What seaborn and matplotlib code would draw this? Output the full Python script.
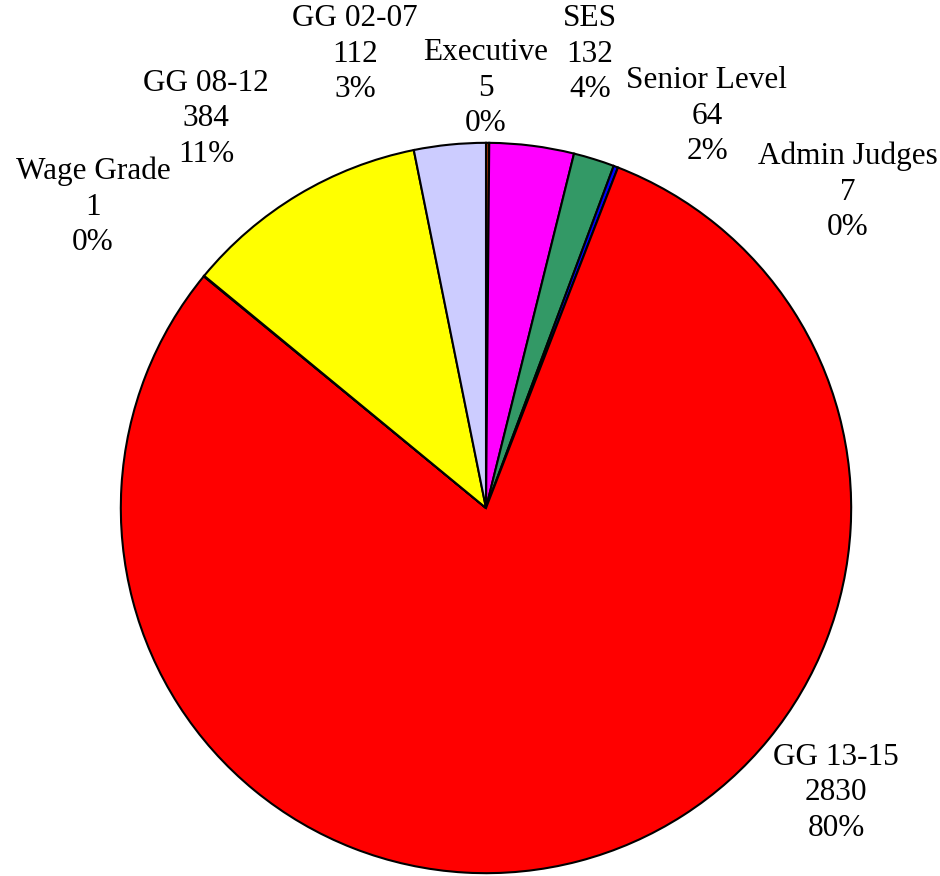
import matplotlib
matplotlib.use("Agg")
import matplotlib.pyplot as plt
import seaborn as sns

# ── Data ──────────────────────────────────────────────────────────────────────
categories = ["Executive", "SES", "Senior Level", "Admin Judges",
              "GG 13-15", "Wage Grade", "GG 08-12", "GG 02-07"]
counts = [5, 132, 64, 7, 2830, 1, 384, 112]
colors = ["#993300", "#FF00FF", "#339966", "#0000FF",
          "#FF0000", "#800000", "#FFFF00", "#CCCCFF"]

# label block centres, in figure pixels from top-left
label_pos = {
    "Executive":    (486, 88),
    "SES":          (590, 54),
    "Senior Level": (707, 116),
    "Admin Judges": (848, 192),
    "GG 13-15":     (836, 793),
    "Wage Grade":   (93, 207),
    "GG 08-12":     (206, 119),
    "GG 02-07":     (355, 54),
}

W, H = 940, 876
CX, CY, R = 486, 508, 367

sns.set_theme(style="white")
plt.rcParams["font.family"] = ["Liberation Serif", "DejaVu Serif"]

fig = plt.figure(figsize=(W / 100, H / 100), dpi=100)
ax = fig.add_axes([(CX - R) / W, (H - CY - R) / H, 2 * R / W, 2 * R / H])

ax.pie(counts, colors=colors, startangle=90, counterclock=False, radius=1,
       wedgeprops={"edgecolor": "black", "linewidth": 1.5})
ax.set_xlim(-1.005, 1.005)
ax.set_ylim(-1.005, 1.005)
ax.set_aspect("equal")
ax.axis("off")

total = sum(counts)
for name, n in zip(categories, counts):
    x, y = label_pos[name]
    pct = round(100 * n / total)
    fig.text(x / W, 1 - y / H, f"{name}\n{n}\n{pct}%", ha="center", va="center",
             fontsize=22.5, linespacing=1.3, color="black")

fig.savefig("out.png", dpi=100, facecolor="white")
